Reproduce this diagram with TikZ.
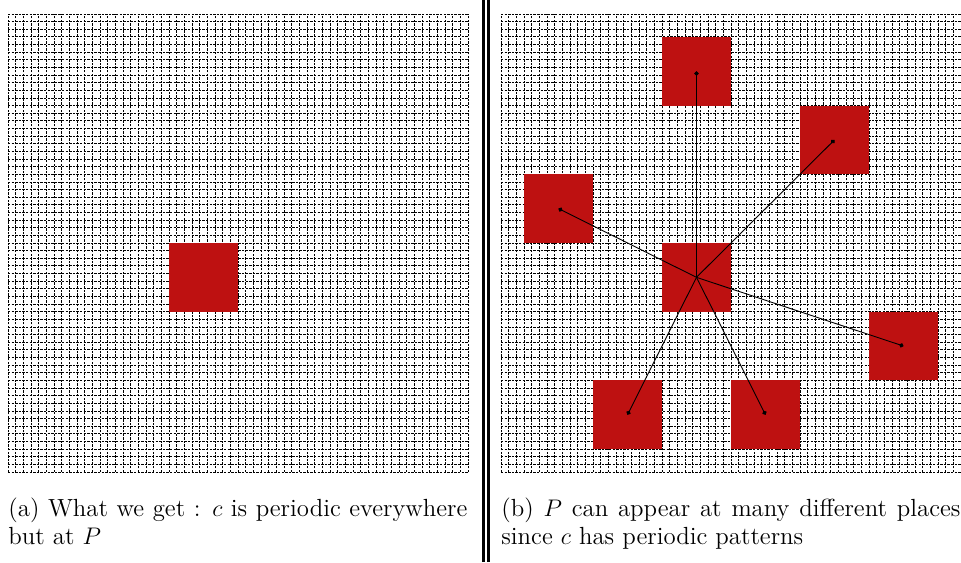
\documentclass[tikz,border=0pt]{standalone}
\usepackage{amsmath}
\usepackage{amssymb}
\usepackage{xcolor}
\usetikzlibrary{arrows.meta}

\definecolor{patred}{RGB}{190,17,17}

\tikzset{
  gridline/.style={line width=0.4pt, dash pattern=on 1.2pt off 0.6pt},
  patch/.style={draw=none, fill=patred, rectangle, inner sep=0pt,
    minimum width=34.5pt, minimum height=34.35pt},
  shiftline/.style={line width=0.45pt, -{Circle[length=2.2pt]}},
  caption/.style={anchor=north west, inner sep=0pt, text width=229.5pt,
    align=justify, font=\fontsize{12.4}{14}\selectfont}
}

\begin{document}
\begin{tikzpicture}[x=0.5pt, y=0.5pt]
  \useasboundingbox (0,0) rectangle (961,562);

  % left: one patch
  \begin{scope}[shift={(4pt,45pt)}, x=3.833pt, y=3.817pt]
    \foreach \i in {0,...,60} {
      \draw [gridline] (\i,0) -- (\i,60);
      \draw [gridline] (0,\i) -- (60,\i);
    }
    \node (Pa) [patch] at (25.5,25.5) {};
  \end{scope}

  % separator
  \draw [line width=1.25pt] (483.5,0) -- (483.5,562);
  \draw [line width=1.25pt] (488.5,0) -- (488.5,562);

  % right: the patch and its copies
  \begin{scope}[shift={(250.5pt,45pt)}, x=3.833pt, y=3.817pt]
    \foreach \i in {0,...,60} {
      \draw [gridline] (\i,0) -- (\i,60);
      \draw [gridline] (0,\i) -- (60,\i);
    }
    \node (Pb) [patch] at (25.5,25.5) {};
    \node (Ptop) [patch] at (25.5,52.5) {};
    \node (Pupright) [patch] at (43.5,43.5) {};
    \node (Pleft) [patch] at (7.5,34.5) {};
    \node (Pright) [patch] at (52.5,16.5) {};
    \node (Pdownleft) [patch] at (16.5,7.5) {};
    \node (Pdownright) [patch] at (34.5,7.5) {};

    \draw [shiftline] (Pb.center) -- (Ptop.center);
    \draw [shiftline] (Pb.center) -- (Pupright.center);
    \draw [shiftline] (Pb.center) -- (Pleft.center);
    \draw [shiftline] (Pb.center) -- (Pright.center);
    \draw [shiftline] (Pb.center) -- (Pdownleft.center);
    \draw [shiftline] (Pb.center) -- (Pdownright.center);
  \end{scope}

  \node (CapA) [caption] at (8,65) {(a) What we get : $c$ is periodic everywhere but at $P$};
  \node (CapB) [caption] at (501,65) {(b) $P$ can appear at many different places since $c$ has periodic patterns};
\end{tikzpicture}
\end{document}
